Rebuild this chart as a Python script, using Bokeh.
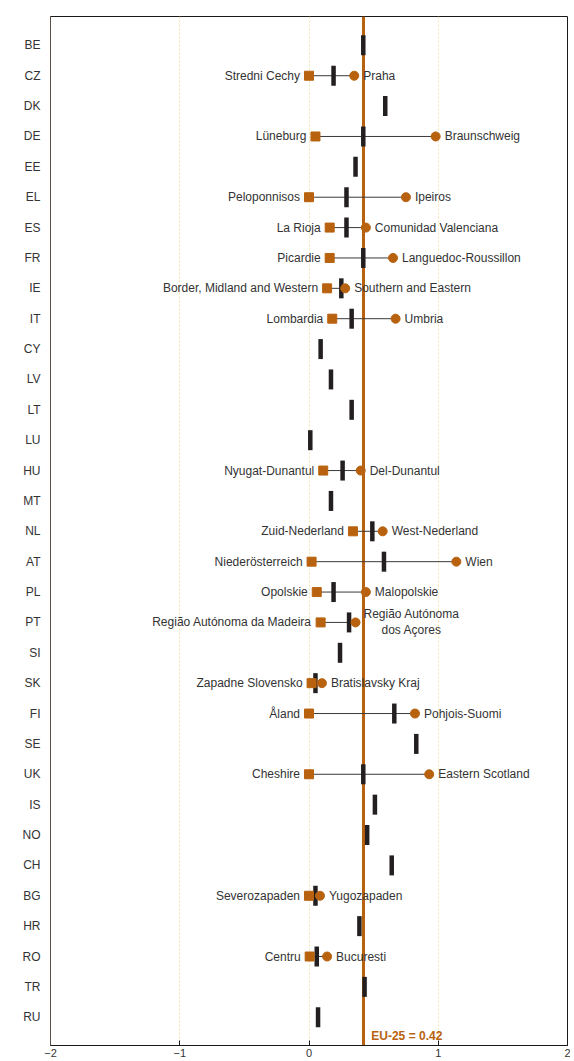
from bokeh.plotting import figure
from bokeh.models import Range1d, FixedTicker, Label, ColumnDataSource
from bokeh.core.properties import value
from bokeh.embed import file_html
from bokeh.resources import INLINE

countries = ["BE", "CZ", "DK", "DE", "EE", "EL", "ES", "FR", "IE", "IT", "CY", "LV",
             "LT", "LU", "HU", "MT", "NL", "AT", "PL", "PT", "SI", "SK", "FI", "SE",
             "UK", "IS", "NO", "CH", "BG", "HR", "RO", "TR", "RU"]
national = [0.42, 0.19, 0.59, 0.42, 0.36, 0.29, 0.29, 0.42, 0.25, 0.33, 0.09, 0.17,
            0.33, 0.01, 0.26, 0.17, 0.49, 0.58, 0.19, 0.31, 0.24, 0.05, 0.66, 0.83,
            0.42, 0.51, 0.45, 0.64, 0.05, 0.39, 0.06, 0.43, 0.07]

region_countries = ["CZ", "DE", "EL", "ES", "FR", "IE", "IT", "HU", "NL", "AT", "PL",
                    "PT", "SK", "FI", "UK", "BG", "RO"]
min_region = ["Stredni Cechy", "Lüneburg", "Peloponnisos", "La Rioja", "Picardie",
              "Border, Midland and Western", "Lombardia", "Nyugat-Dunantul",
              "Zuid-Nederland", "Niederösterreich", "Opolskie",
              "Região Autónoma da Madeira", "Zapadne Slovensko", "Åland", "Cheshire",
              "Severozapaden", "Centru"]
min_value = [0.0, 0.05, 0.0, 0.16, 0.16, 0.14, 0.18, 0.11, 0.34, 0.02, 0.06, 0.09,
             0.02, 0.0, 0.0, 0.0, 0.005]
max_region = ["Praha", "Braunschweig", "Ipeiros", "Comunidad Valenciana",
              "Languedoc-Roussillon", "Southern and Eastern", "Umbria", "Del-Dunantul",
              "West-Nederland", "Wien", "Malopolskie", "Região Autónoma\ndos Açores",
              "Bratislavsky Kraj", "Pohjois-Suomi", "Eastern Scotland", "Yugozapaden",
              "Bucuresti"]
max_value = [0.35, 0.98, 0.75, 0.44, 0.65, 0.28, 0.67, 0.40, 0.57, 1.14, 0.44, 0.36,
             0.10, 0.82, 0.93, 0.085, 0.14]

eu_value = 0.42
eu_label = "EU-25 = 0.42"
x_ticks = [-2, -1, 0, 1, 2]

ORANGE = "#B8620F"
DARK = "#231F20"
TEXT = "#333333"
FONT = "Liberation Sans"

rows = list(range(len(countries)))
row_of = {c: i for i, c in enumerate(countries)}
y_top, y_bottom = -0.95, len(countries) - 1 + 0.93

p = figure(width=570, height=1059, output_backend="svg", toolbar_location=None,
           x_range=Range1d(-2, 2), y_range=Range1d(y_bottom, y_top),
           min_border_left=50, min_border_right=3, min_border_top=16, min_border_bottom=0)
p.background_fill_color = "white"
p.border_fill_color = "white"
p.outline_line_color = "#1a1a1a"
p.outline_line_width = 1

# axes
p.xaxis.ticker = FixedTicker(ticks=x_ticks)
p.xaxis.major_tick_in = 5
p.xaxis.major_tick_out = 0
p.xaxis.minor_tick_line_color = None
p.xaxis.axis_line_color = "#1a1a1a"
p.xaxis.major_tick_line_color = "#1a1a1a"
p.xaxis.major_label_text_font = FONT
p.xaxis.major_label_text_font_size = "11px"
p.xaxis.major_label_text_color = TEXT
p.xaxis.major_label_standoff = 3

p.yaxis.ticker = FixedTicker(ticks=rows)
p.yaxis.major_label_overrides = {i: c for i, c in enumerate(countries)}
p.yaxis.major_tick_in = 0
p.yaxis.major_tick_out = 0
p.yaxis.minor_tick_line_color = None
p.yaxis.axis_line_color = "#5a5048"
p.yaxis.major_label_text_font = FONT
p.yaxis.major_label_text_font_size = "12px"
p.yaxis.major_label_text_color = TEXT
p.yaxis.major_label_standoff = 10

p.ygrid.grid_line_color = None
p.xgrid.ticker = FixedTicker(ticks=x_ticks)
p.xgrid.grid_line_color = "#F6E3B0"
p.xgrid.grid_line_dash = "2 2"
p.xgrid.grid_line_width = 1

# EU reference line
p.vspan(x=[eu_value], line_color=ORANGE, line_width=3)

# region ranges
ry = [row_of[c] for c in region_countries]
max_align = ["center" if "\n" in n else "left" for n in max_region]
max_xoff = [56 if "\n" in n else 9 for n in max_region]
rsrc = ColumnDataSource(dict(y=ry, lo=min_value, hi=max_value, lo_name=min_region,
                             hi_name=max_region, align=max_align, xoff=max_xoff))
p.segment(x0="lo", y0="y", x1="hi", y1="y", source=rsrc, line_color="#3a3a3a", line_width=1)

# national values
p.rect(x=national, y=rows, width=4.5, height=20, width_units="screen",
       height_units="screen", fill_color=DARK, line_color=None)

p.scatter(x="lo", y="y", source=rsrc, marker="square", size=9, fill_color=ORANGE,
          line_color=ORANGE)
p.scatter(x="hi", y="y", source=rsrc, marker="circle", size=9, fill_color=ORANGE,
          line_color=ORANGE)

p.text(x="lo", y="y", text="lo_name", source=rsrc, x_offset=-9, text_align="right",
       text_baseline="middle", text_font=value(FONT), text_font_size="12px",
       text_color=TEXT)
p.text(x="hi", y="y", text="hi_name", source=rsrc, x_offset="xoff", text_align="align",
       text_baseline="middle", text_font=value(FONT), text_font_size="12px",
       text_color=TEXT, text_line_height=1.15)

p.add_layout(Label(x=eu_value, y=y_bottom, x_offset=8, y_offset=3, text=eu_label,
                   text_baseline="bottom", text_align="left", text_font=FONT,
                   text_font_size="12px", text_font_style="bold", text_color=ORANGE))

open("out.html", "w").write(file_html(p, INLINE))
